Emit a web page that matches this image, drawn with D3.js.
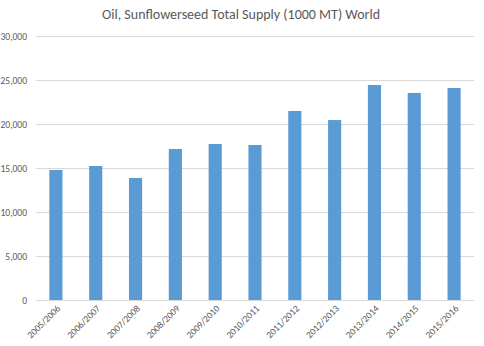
<!DOCTYPE html>
<html><head><meta charset="utf-8">
<script src="https://cdn.jsdelivr.net/npm/d3@7"></script>
<style>body{margin:0;background:#fff;}svg{display:block;}</style>
</head><body>
<svg id="c" width="484" height="346"></svg>
<script>
const categories = ["2005/2006","2006/2007","2007/2008","2008/2009","2009/2010","2010/2011","2011/2012","2012/2013","2013/2014","2014/2015","2015/2016"];
const values = [14780, 15230, 13870, 17160, 17730, 17610, 21480, 20450, 24430, 23530, 24090];
const yTicks = [0, 5000, 10000, 15000, 20000, 25000, 30000];
const title = "Oil, Sunflowerseed Total Supply (1000 MT) World";

const svg = d3.select("#c");
const font = "Carlito, Calibri, Lato, 'Open Sans', sans-serif";
const x = d3.scaleBand().domain(categories).range([36, 474]).paddingInner(0.67).paddingOuter(0.335);
const y = d3.scaleLinear().domain([0, 30000]).range([300, 36]);

// gridlines
svg.append("g").selectAll("line").data(yTicks).join("line")
  .attr("x1", 36).attr("x2", 474)
  .attr("y1", d => y(d) + 0.5).attr("y2", d => y(d) + 0.5)
  .attr("stroke", "#d9d9d9").attr("stroke-width", 1);

// y axis labels
const yAxis = d3.axisLeft(y).tickValues(yTicks).tickFormat(d3.format(",")).tickSize(0).tickPadding(0);
const ya = svg.append("g").attr("transform", "translate(27,0)").call(yAxis);
ya.select(".domain").remove();
ya.selectAll("text").attr("font-family", font).attr("font-size", 9.5).attr("fill", "#595959").attr("dy", "0.35em");

// bars
svg.append("g").selectAll("rect").data(values).join("rect")
  .attr("x", (d, i) => x(categories[i]))
  .attr("y", d => y(d))
  .attr("width", x.bandwidth())
  .attr("height", d => y(0) - y(d))
  .attr("fill", "#5b9bd5");

// x axis labels
const xAxis = d3.axisBottom(x).tickSize(0).tickPadding(0);
const xa = svg.append("g").attr("transform", "translate(0,300)").call(xAxis);
xa.select(".domain").remove();
xa.selectAll("text")
  .attr("font-family", font).attr("font-size", 9.5).attr("fill", "#595959")
  .attr("text-anchor", "end")
  .attr("dy", null).attr("y", 0)
  .attr("transform", "translate(5,9) rotate(-45)");

// title
svg.append("text").attr("x", 241).attr("y", 19).attr("text-anchor", "middle")
  .attr("font-family", font).attr("font-size", 14.5).attr("fill", "#595959")
  .attr("textLength", 278).attr("lengthAdjust", "spacingAndGlyphs")
  .text(title);
</script>
</body></html>
